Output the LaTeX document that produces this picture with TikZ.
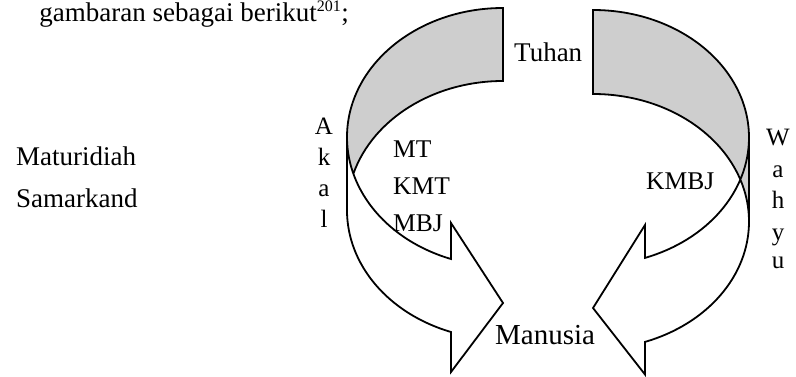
\documentclass[tikz,border=0pt]{standalone}
\usepackage{fontspec}
\setmainfont{Liberation Serif}
\definecolor{bandgray}{RGB}{206,206,206}
\begin{document}
\begin{tikzpicture}[x=1pt,y=1pt,
  outline/.style={draw=black,line width=1.8pt,line join=miter},
  txt/.style={inner sep=0pt,font=\fontsize{27}{32}\selectfont},
  lbl/.style={inner sep=0pt,font=\fontsize{25.5}{30}\selectfont},
  ltr/.style={inner sep=0pt,anchor=base,font=\fontsize{25}{30}\selectfont},
  eLa/.style={x radius=156pt,y radius=129.2pt},
  eRa/.style={x radius=156pt,y radius=127.6pt}]
\useasboundingbox (0,0) rectangle (796,376);

% ---- left curved arrow (band on the left, head pointing right) ----
% front part
\path[fill=white] (347,238.8) arc[start angle=180,end angle=250.53,eLa]
  -- (451,153) -- (503,73) -- (451,4) -- (451,44)
  arc[start angle=250.53,end angle=180,eLa] -- cycle;
% back part
\path[fill=bandgray] (503,368) arc[start angle=90,end angle=196.41,eLa]
  arc[start angle=163.59,end angle=90,eLa] -- cycle;
% outline
\draw[outline] (353.4,202.3) arc[start angle=163.59,end angle=90,eLa]
  -- (503,368) arc[start angle=90,end angle=250.53,eLa]
  -- (451,153) -- (503,73) -- (451,4) -- (451,44)
  arc[start angle=250.53,end angle=180,eLa] -- (347,238.8);

% ---- right curved arrow (band on the right, head pointing left) ----
% front part
\path[fill=white] (749,238.4) arc[start angle=0,end angle=-70.53,eRa]
  -- (645,151) -- (593,68) -- (645,1.5) -- (645,34.1)
  arc[start angle=-70.53,end angle=0,eRa] -- cycle;
% back part
\path[fill=bandgray] (593,366) arc[start angle=90,end angle=0,eRa]
  -- (749,154.4) arc[start angle=0,end angle=90,eRa] -- cycle;
% outline
\draw[outline] (749,154.4) arc[start angle=0,end angle=90,eRa]
  -- (593,366) arc[start angle=90,end angle=-70.53,eRa]
  -- (645,151) -- (593,68) -- (645,1.5) -- (645,34.1)
  arc[start angle=-70.53,end angle=0,eRa] -- (749,238.4);

% ---- texts ----
\node[txt,anchor=base east] (intro) at (349,355) {gambaran sebagai berikut\textsuperscript{\fontsize{16}{16}\selectfont 201};};
\node[txt,anchor=base west] (mat) at (16,211) {Maturidiah};
\node[txt,anchor=base west] (sam) at (16,169) {Samarkand};
\node[txt,anchor=base west] (tuhan) at (514,315) {Tuhan};
\node[txt,anchor=base west,font=\fontsize{29}{34}\selectfont] (manusia) at (495,32) {Manusia};
\node[lbl,anchor=base west] (mt) at (393,219) {MT};
\node[lbl,anchor=base west] (kmt) at (393,182) {KMT};
\node[lbl,anchor=base west] (mbj) at (393,145) {MBJ};
\node[lbl,anchor=base west] (kmbj) at (646,187) {KMBJ};
% vertical words
\node[ltr] (akA) at (324,242) {A};
\node[ltr] (akk) at (324,211) {k};
\node[ltr] (aka) at (324,180) {a};
\node[ltr] (akl) at (324,149) {l};
\node[ltr] (wW) at (778,231) {W};
\node[ltr] (wa) at (778,199) {a};
\node[ltr] (wh) at (778,168) {h};
\node[ltr] (wy) at (778,136) {y};
\node[ltr] (wu) at (778,108) {u};
\end{tikzpicture}
\end{document}
